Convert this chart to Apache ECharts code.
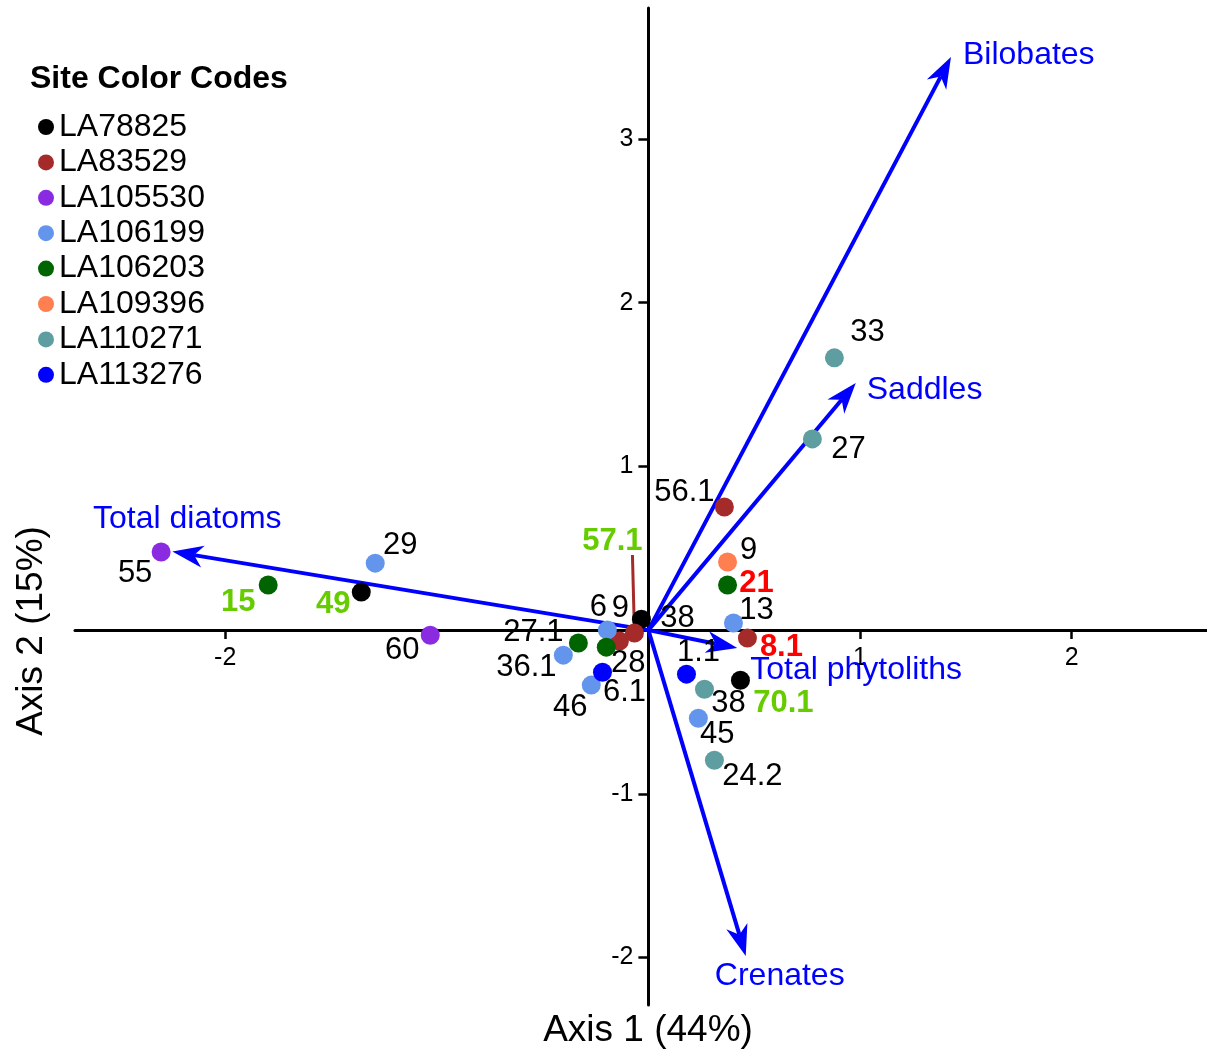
<!DOCTYPE html>
<html><head><meta charset="utf-8">
<script src="https://cdn.jsdelivr.net/npm/echarts@6/dist/echarts.min.js"></script>
<style>html,body{margin:0;padding:0;background:#fff}#c{width:1207px;height:1055px}</style>
</head><body><div id="c"></div>
<script>
const FONT = '"Liberation Sans", Arial, Helvetica, sans-serif';
const sites = ['LA78825','LA83529','LA105530','LA106199','LA106203','LA109396','LA110271','LA113276'];
const siteColors = ['#000000','#a52a2a','#8a2be2','#6495ed','#006400','#ff7f50','#5f9ea0','#0000ff'];

// samples (site index, Axis 1, Axis 2)
const sampleLabels = ['55','15','49','29','60','56.1','9','21','13','8.1','70.1','1.1','38','45','24.2','33','27','38','57.1','9','6','27.1','36.1','28','6.1','46'];
const sampleSite   = [2,4,0,3,2,1,5,4,3,1,0,7,6,3,6,6,6,0,1,1,3,4,3,4,7,3];
const axis1 = [-2.303,-1.797,-1.357,-1.291,-1.031,0.359,0.374,0.374,0.402,0.468,0.435,0.180,0.265,0.236,0.312,0.879,0.775,-0.033,-0.066,-0.137,-0.194,-0.331,-0.402,-0.199,-0.217,-0.270];
const axis2 = [0.477,0.275,0.232,0.409,-0.031,0.752,0.416,0.275,0.043,-0.049,-0.306,-0.269,-0.361,-0.538,-0.795,1.663,1.168,0.067,-0.018,-0.067,0.000,-0.079,-0.153,-0.104,-0.257,-0.336];
// label emphasis: 0 normal black, 1 green bold, 2 red bold
const labelKind = [0,1,1,0,0,0,0,2,0,2,1,0,0,0,0,0,0,0,1,0,0,0,0,0,0,0];
// label placement (pixel offsets of label centre from the point)
const labelOffsets = [[-26,21],[-30,17],[-28,12],[25,-18],[-28,15],[-40,-15],[21,-12],[29,-2],[23,-13],[34,9],[43,23],[12,-22],[24,14],[19,16],[38,16],[33,-25],[36,11],[36,-1],[-22,-92],[1,-33],[-9,-23],[-45,-11],[-37,12],[22,16],[22,20],[-21,22]];
// leader line (sample index, pixel offset of the line's top end)
const leaderSamples = [18];
const leaderTops = [[-2,-78]];

// variable vectors
const vectorNames = ['Bilobates','Saddles','Total diatoms','Total phytoliths','Crenates'];
const vectorX = [1.43, 0.98, -2.25, 0.42, 0.46];
const vectorY = [3.50, 1.51, 0.48, -0.11, -1.99];
const vectorLabelPlace = [[12,-2,'left'],[11,7,'left'],[15,-32,'center'],[13,22,'left'],[34,20,'center']];

const xTickValues = [-2,-1,0,1,2];
const xLabelValues = [-2,1,2];
const yTickValues = [-2,-1,0,1,2,3];
const yLabelValues = [-2,-1,1,2,3];

const kindColor = ['#000000','#66cc00','#ff0000'];
const kindWeight = ['normal','bold','bold'];

const GRID = { left: 75, right: 0, top: 8, bottom: 50 };
const X_MIN = -2.71, X_MAX = 2.64, Y_MIN = -2.29, Y_MAX = 3.80;
const W = 1207, H = 1055;
// place axis lines through the origin (offset from the grid edges)
const plotW = W - GRID.left - GRID.right, plotH = H - GRID.top - GRID.bottom;
const xAxisOffset = -plotH * (0 - Y_MIN) / (Y_MAX - Y_MIN);
const yAxisOffset = -plotW * (0 - X_MIN) / (X_MAX - X_MIN);

const siteSeries = sites.map((s, si) => {
  const data = [];
  sampleSite.forEach((k, i) => {
    if (k !== si) return;
    data.push({
      name: sampleLabels[i],
      value: [axis1[i], axis2[i]],
      label: { offset: labelOffsets[i], color: kindColor[labelKind[i]], fontWeight: kindWeight[labelKind[i]] }
    });
  });
  return {
    name: s, type: 'scatter', symbol: 'circle', symbolSize: 19, z: 5,
    itemStyle: { color: siteColors[si], opacity: 1 },
    label: { show: true, position: 'inside', formatter: '{b}', fontSize: 31, fontFamily: FONT, color: '#000' },
    emphasis: { disabled: true },
    data
  };
});

const vectorSeries = {
  type: 'custom', name: 'vectors', z: 3, silent: true,
  data: vectorNames.map((n, i) => [vectorX[i], vectorY[i], i]),
  renderItem: function (params, api) {
    const i = api.value(2);
    const o = api.coord([0, 0]);
    const t = api.coord([api.value(0), api.value(1)]);
    const dx = t[0] - o[0], dy = t[1] - o[1];
    const L = Math.sqrt(dx*dx + dy*dy);
    const ux = dx / L, uy = dy / L, nx = -uy, ny = ux;
    const HL = 31, HW = 11, NOTCH = 22;
    const b1 = [t[0] - HL*ux + HW*nx, t[1] - HL*uy + HW*ny];
    const b2 = [t[0] - HL*ux - HW*nx, t[1] - HL*uy - HW*ny];
    const nt = [t[0] - NOTCH*ux, t[1] - NOTCH*uy];
    const pl = vectorLabelPlace[i];
    return {
      type: 'group',
      children: [
        { type: 'line', shape: { x1: o[0], y1: o[1], x2: nt[0], y2: nt[1] }, style: { stroke: '#0000ff', lineWidth: 4 } },
        { type: 'polygon', shape: { points: [t, b1, nt, b2] }, style: { fill: '#0000ff' } },
        { type: 'text', style: { text: vectorNames[i], x: t[0] + pl[0], y: t[1] + pl[1], fill: '#0000ff', fontSize: 32, fontFamily: FONT, align: pl[2], verticalAlign: 'middle' } }
      ]
    };
  }
};

const leaderSeries = {
  type: 'custom', name: 'leaders', z: 4, silent: true,
  data: leaderSamples.map((si, k) => [axis1[si], axis2[si], k]),
  renderItem: function (params, api) {
    const k = api.value(2);
    const p = api.coord([api.value(0), api.value(1)]);
    const top = leaderTops[k];
    return { type: 'line', shape: { x1: p[0], y1: p[1], x2: p[0] + top[0], y2: p[1] + top[1] }, style: { stroke: '#a52a2a', lineWidth: 3 } };
  }
};

const chart = echarts.init(document.getElementById('c'), null, { renderer: 'canvas' });
chart.setOption({
  animation: false,
  backgroundColor: '#ffffff',
  textStyle: { fontFamily: FONT },
  title: { text: 'Site Color Codes', left: 30, top: 63, padding: 0, textStyle: { fontSize: 32, fontWeight: 'bold', color: '#000', fontFamily: FONT } },
  legend: {
    orient: 'vertical', left: 38, top: 111, padding: 0, itemWidth: 16, itemHeight: 16, itemGap: 3.4,
    icon: 'circle', selectedMode: false, data: sites,
    textStyle: { fontSize: 32, lineHeight: 32, color: '#000', fontFamily: FONT }
  },
  grid: { left: GRID.left, right: GRID.right, top: GRID.top, bottom: GRID.bottom, containLabel: false, outerBoundsMode: 'none' },
  xAxis: {
    type: 'value', min: X_MIN, max: X_MAX, position: 'bottom', offset: xAxisOffset,
    axisLine: { onZero: false, lineStyle: { color: '#000', width: 3 } },
    axisTick: { show: true, inside: false, length: 9, customValues: xTickValues, lineStyle: { color: '#000', width: 2.5 } },
    axisLabel: { customValues: xLabelValues, fontSize: 25, color: '#000', margin: 16, fontFamily: FONT },
    splitLine: { show: false },
    name: 'Axis 1 (44%)', nameLocation: 'middle', nameGap: 382,
    nameTextStyle: { fontSize: 37, color: '#000', fontFamily: FONT, padding: [0, 0, 0, 14] }
  },
  yAxis: {
    type: 'value', min: Y_MIN, max: Y_MAX, position: 'left', offset: yAxisOffset,
    axisLine: { onZero: false, lineStyle: { color: '#000', width: 3 } },
    axisTick: { show: true, inside: false, length: 10, customValues: yTickValues, lineStyle: { color: '#000', width: 2.5 } },
    axisLabel: { customValues: yLabelValues, fontSize: 25, color: '#000', margin: 15, fontFamily: FONT },
    splitLine: { show: false }
  },
  graphic: [
    { type: 'text', x: 32, y: 631, rotation: Math.PI / 2, style: { text: 'Axis 2 (15%)', fontSize: 37, fontFamily: FONT, fill: '#000', align: 'center', verticalAlign: 'middle' } }
  ],
  series: [vectorSeries, leaderSeries].concat(siteSeries)
});
</script>
</body></html>
